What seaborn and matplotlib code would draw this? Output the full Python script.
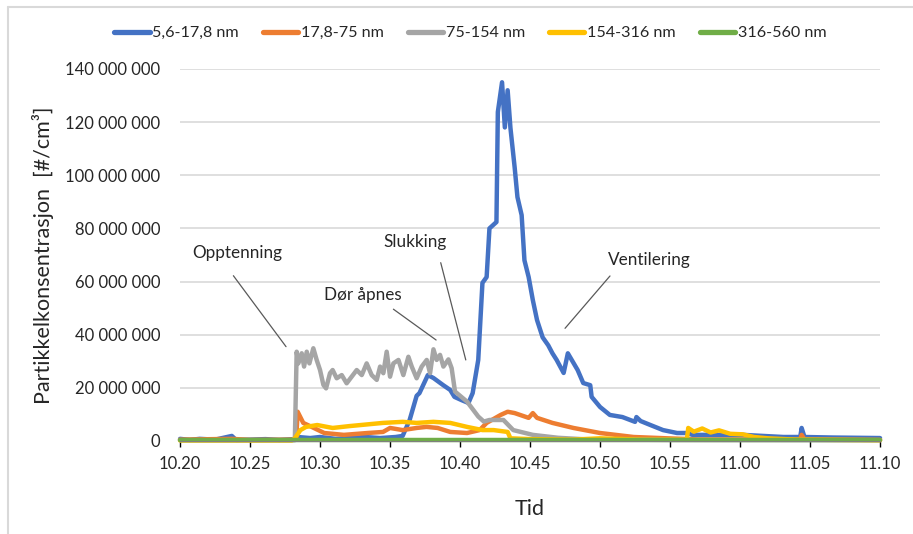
import numpy as np
import pandas as pd
import matplotlib.pyplot as plt
import seaborn as sns
from matplotlib.lines import Line2D
from matplotlib.ticker import FuncFormatter

# Minutes after 10.20, values in millions of particles per cm3
blue_t = [0, 0.7, 1.4, 2.5, 3.7, 4.0, 5.0, 6.1, 7.1, 8.1, 8.4, 9.3, 10.0, 11.1, 12.1,
          13.2, 14.3, 15.4, 15.9, 16.4, 16.9, 17.1, 17.7, 18.1, 18.8, 19.3, 19.6, 20.1,
          20.6, 20.9, 21.3, 21.6, 21.9, 22.1, 22.6, 22.7, 23.0, 23.2, 23.4, 23.6, 23.9,
          24.1, 24.4, 24.6, 24.9, 25.2, 25.5, 25.9, 26.3, 26.6, 26.9, 27.4, 27.7, 28.4,
          28.8, 29.3, 29.4, 30.0, 30.7, 31.6, 32.5, 32.6, 32.9, 33.6, 34.5, 35.5, 36.2,
          36.6, 37.9, 40.2, 43.1, 44.3, 44.4, 44.6, 46.6, 50.0]
blue_v = [0.8, 0.4, 0.8, 0.5, 1.9, 0.4, 0.5, 0.7, 0.4, 0.7, 1.5, 1.1, 1.5, 0.8, 1.1,
          1.5, 1.1, 1.5, 1.9, 7.9, 17.0, 18.0, 24.8, 23.7, 21.0, 19.2, 16.6, 15.4,
          14.3, 18.0, 30.5, 59.5, 61.7, 80.0, 82.4, 123.8, 135.0, 118.0, 132.0, 117.8, 103.0,
          91.8, 85.0, 68.0, 61.7, 53.0, 45.5, 39.0, 36.0, 33.0, 30.5, 25.6, 33.0, 26.7,
          21.8, 21.0, 16.6, 12.8, 9.8, 9.0, 7.2, 9.0, 7.5, 6.0, 4.1, 3.0, 3.0,
          2.3, 2.3, 2.3, 1.5, 1.5, 4.9, 1.5, 1.3, 1.1]

orange_t = [0, 3.7, 5.0, 8.0, 8.3, 8.4, 8.8, 9.4, 10.3, 11.7, 13.4, 14.5, 15.0, 15.9,
            16.9, 17.6, 18.4, 19.3, 20.5, 21.4, 21.9, 22.9, 23.4, 23.9, 24.9, 25.2, 25.5,
            26.6, 28.1, 30.0, 32.4, 34.8, 37.0, 44.3, 44.4, 44.6, 50.0]
orange_v = [0.5, 0.8, 0.4, 0.5, 0.8, 11.0, 6.8, 5.3, 3.0, 2.3, 3.0, 3.4, 4.9, 4.1,
            4.9, 5.3, 4.9, 3.4, 3.0, 4.1, 6.8, 9.8, 11.0, 10.5, 8.7, 10.5, 8.7,
            6.8, 4.9, 3.0, 1.5, 1.0, 0.6, 0.6, 2.3, 0.6, 0.4]

gray_t = [0, 8.2, 8.33, 8.45, 8.69, 8.86, 9.05, 9.24, 9.52, 9.76, 10.0, 10.24, 10.43,
          10.71, 10.9, 11.19, 11.55, 11.9, 12.26, 12.62, 12.98, 13.33, 13.69, 14.05,
          14.29, 14.52, 14.76, 15.0, 15.24, 15.6, 15.95, 16.31, 16.55, 16.9, 17.26,
          17.62, 17.86, 18.1, 18.33, 18.57, 18.81, 19.17, 19.4, 19.64, 20.5, 21.3,
          21.7, 22.1, 23.1, 23.8, 25.2, 27.0, 29.0, 35.0, 50.0]
gray_v = [0.3, 0.3, 33.6, 29.2, 33.0, 28.0, 33.6, 29.2, 34.9, 30.5, 26.7, 21.1, 19.8,
          25.5, 26.7, 23.6, 24.8, 21.7, 24.2, 26.7, 24.8, 29.2, 24.8, 23.0,
          28.0, 25.5, 33.6, 24.2, 29.2, 30.5, 24.8, 31.7, 28.0, 23.6, 28.0,
          30.5, 25.5, 34.5, 30.5, 32.4, 28.0, 30.7, 27.4, 18.6, 14.8, 9.2,
          7.3, 7.9, 7.9, 4.1, 2.3, 1.2, 0.6, 0.4, 0.3]

yellow_t = [0, 8.0, 8.2, 8.6, 9.0, 9.8, 10.9, 12.1, 14.5, 15.9, 16.9, 18.1, 19.3, 20.5,
            21.6, 22.4, 23.4, 23.6, 25.0, 28.0, 30.0, 33.0, 36.2, 36.3, 36.7, 37.3,
            37.9, 38.5, 39.3, 40.2, 41.0, 42.0, 44.0, 50.0]
yellow_v = [0.2, 0.2, 1.0, 4.1, 5.3, 6.0, 4.9, 5.6, 6.8, 7.2, 6.8, 7.2, 6.8, 5.3,
            4.1, 4.1, 3.4, 1.0, 0.7, 0.5, 1.0, 0.5, 0.5, 4.9, 3.5, 4.7,
            3.2, 4.0, 2.7, 2.5, 1.5, 1.0, 0.5, 0.3]

green_t = [0, 50.0]
green_v = [0.2, 0.2]

series_names = ["5,6-17,8 nm", "17,8-75 nm", "75-154 nm", "154-316 nm", "316-560 nm"]
series_colors = ["#4472C4", "#ED7D31", "#A5A5A5", "#FFC000", "#70AD47"]
tick_labels = ["10.20", "10.25", "10.30", "10.35", "10.40", "10.45",
               "10.50", "10.55", "11.00", "11.05", "11.10"]

frames = []
for name, t, v in zip(series_names,
                      [blue_t, orange_t, gray_t, yellow_t, green_t],
                      [blue_v, orange_v, gray_v, yellow_v, green_v]):
    frames.append(pd.DataFrame({"tid": t, "verdi": np.array(v) * 1e6, "serie": name}))
df = pd.concat(frames, ignore_index=True)

sns.set_style("white")
plt.rcParams["font.family"] = ["Lato", "DejaVu Sans"]

fig = plt.figure(figsize=(9.13, 5.34), dpi=100)
ax = fig.add_axes([0.1972, 0.1742, 0.7667, 0.6966])

sns.lineplot(data=df, x="tid", y="verdi", hue="serie", hue_order=series_names,
             palette=series_colors, estimator=None, sort=False, linewidth=3.2, ax=ax)
for ln in ax.lines:
    ln.set_clip_on(False)
    ln.set_solid_joinstyle("round")

ax.set_xlim(0, 50)
ax.set_ylim(0, 140e6)
ax.set_xticks(np.arange(0, 51, 5))
ax.set_xticklabels(tick_labels)
ax.set_yticks(np.arange(0, 141e6, 20e6))
ax.yaxis.set_major_formatter(FuncFormatter(lambda v, p: f"{v:,.0f}".replace(",", " ")))
ax.grid(axis="y", color="#D9D9D9", linewidth=1.2)
ax.set_axisbelow(True)
for side in ["left", "right", "top"]:
    ax.spines[side].set_visible(False)
ax.spines["bottom"].set_color("#7F7F7F")
ax.tick_params(axis="x", direction="out", length=4, width=1, color="black",
               labelsize=12, pad=7, bottom=True)
ax.tick_params(axis="y", length=0, labelsize=12, pad=14)

ax.set_xlabel("Tid", fontsize=15.5, labelpad=19)
ax.set_ylabel("Partikkelkonsentrasjon  [#/cm³]", fontsize=15.5, labelpad=8)

# annotations
notes = [("Opptenning", (4.07, 70.8), (3.81, 62.2), (7.57, 35.5)),
         ("Dør åpnes", (13.04, 54.9), (15.24, 49.6), (18.29, 38.0)),
         ("Slukking", (16.75, 75.0), (18.62, 67.1), (20.41, 30.5)),
         ("Ventilering", (33.5, 68.1), (30.71, 62.1), (27.5, 42.4))]
for txt, tpos, p0, p1 in notes:
    ax.text(tpos[0], tpos[1] * 1e6, txt, fontsize=12.3, ha="center", va="center")
    ax.annotate("", xy=(p1[0], p1[1] * 1e6), xytext=(p0[0], p0[1] * 1e6),
                arrowprops=dict(arrowstyle="-", color="#595959", lw=0.9,
                                shrinkA=0, shrinkB=0))

handles, labels = ax.get_legend_handles_labels()
ax.get_legend().remove()
leg = fig.legend(handles, labels, loc="center", bbox_to_anchor=(0.515, 0.938), ncol=5,
                 frameon=False, fontsize=11.6, handlelength=2.2, handletextpad=0.15,
                 columnspacing=1.5)
for h in leg.legend_handles:
    h.set_linewidth(3.8)

# chart frame
fy = 1 - 7 / 534
fx = 8 / 913
fig.add_artist(Line2D([fx, fx], [0, fy], color="#D9D9D9", lw=1.5))
fig.add_artist(Line2D([fx, 1], [fy, fy], color="#D9D9D9", lw=1.5))

fig.savefig("out.png", dpi=100)
